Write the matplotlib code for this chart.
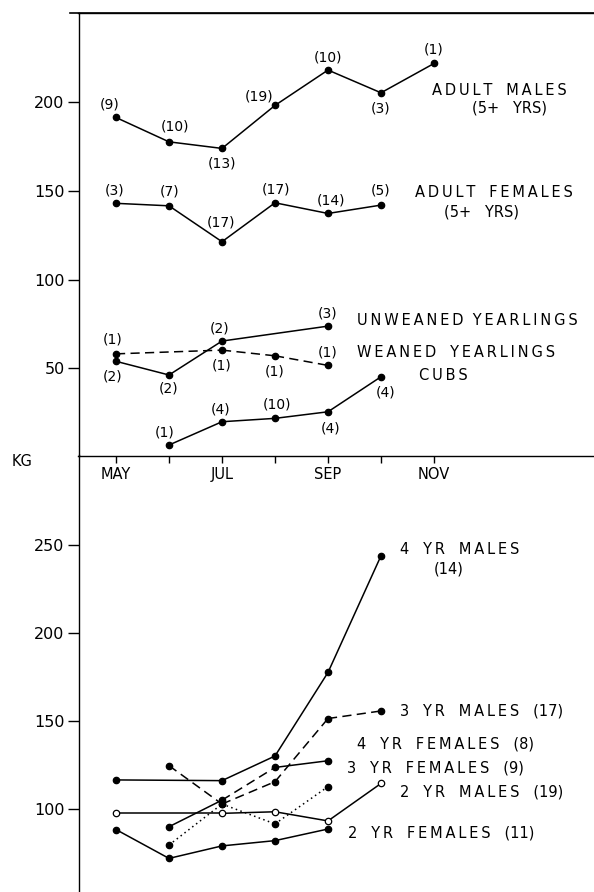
import matplotlib
matplotlib.use("Agg")
import matplotlib.pyplot as plt
from matplotlib.lines import Line2D

plt.rcParams['font.family'] = ['DejaVu Sans']

# month numbers: 5 = May ... 11 = Nov
month_ticks = [5, 6, 7, 8, 9, 10, 11]
month_labels = ['MAY', '', 'JUL', '', 'SEP', '', 'NOV']

# ---- top panel (kg) ----
am_x = [5, 6, 7, 8, 9, 10, 11]
am_y = [191.2, 177.5, 173.8, 198.0, 217.9, 205.1, 221.6]
am_n = ['(9)', '(10)', '(13)', '(19)', '(10)', '(3)', '(1)']

af_x = [5, 6, 7, 8, 9, 10]
af_y = [142.9, 141.5, 121.3, 143.2, 137.2, 141.9]
af_n = ['(3)', '(7)', '(17)', '(17)', '(14)', '(5)']

uy_x = [5, 6, 7, 9]
uy_y = [54.0, 46.3, 65.4, 73.8]
uy_n = ['(2)', '(2)', '(2)', '(3)']

wy_x = [5, 7, 8, 9]
wy_y = [58.2, 60.3, 57.1, 51.7]
wy_n = ['(1)', '(1)', '(1)', '(1)']

cub_x = [6, 7, 8, 9, 10]
cub_y = [6.9, 20.0, 21.9, 25.6, 45.3]
cub_n = ['(1)', '(4)', '(10)', '(4)', '(4)']

# ---- bottom panel (kg) ----
m4_x = [5, 7, 8, 9, 10]
m4_y = [116.5, 116.1, 130.1, 177.6, 243.9]

m3_x = [6, 7, 8, 9, 10]
m3_y = [124.6, 102.8, 115.5, 151.4, 155.7]

f3_x = [6, 7, 8, 9]
f3_y = [89.9, 105.0, 123.6, 127.4]

f4_x = [6, 7, 8, 9]
f4_y = [79.5, 102.8, 91.5, 112.7]

m2_x = [5, 7, 8, 9, 10]
m2_y = [97.5, 97.5, 98.4, 93.2, 114.5]

f2_x = [5, 6, 7, 8, 9]
f2_y = [88.3, 71.9, 79.0, 82.0, 88.6]

LW = 1.1
MS = 4.6
dash = (0, (6, 3.5))
dot = (0, (1, 2.2))

fig = plt.figure(figsize=(5.94, 8.92), dpi=100)
ax2 = fig.add_axes([78.5/594, 0, 1-78.5/594, 1-455.5/892])
ax1 = fig.add_axes([78.5/594, 1-455.5/892, 1-78.5/594, (455.5-13)/892])
ax1.patch.set_alpha(0)
ax2.patch.set_alpha(0)
ax1.set_zorder(2)

xl = (5 - 37.5/53, 5 + 478/53)


def spaced(s, gap='   '):
    # wide lettering like the original stencil text; numbers stay tight
    words = []
    for w in s.split(' '):
        words.append(w if w.startswith('(') and w[1].isdigit() else '\u2009'.join(w))
    return gap.join(words)


def series(ax, xs, ys, styles, mfc='k', counts=None, offs=None):
    if isinstance(styles, str) or isinstance(styles, tuple):
        styles = [styles] * (len(xs) - 1)
    for i, ls in enumerate(styles):
        ax.plot(xs[i:i+2], ys[i:i+2], color='k', lw=LW, linestyle=ls)
    ax.plot(xs, ys, 'o', ms=MS, mfc=mfc, mec='k', mew=0.9, zorder=3)
    if counts:
        for x, y, t, (dx, dy) in zip(xs, ys, counts, offs):
            ax.annotate(t, (x, y), xytext=(dx, dy), textcoords='offset pixels',
                        ha='center', va='center', fontsize=10)


# top panel
series(ax1, am_x, am_y, '-', counts=am_n,
       offs=[(-6, 13), (6, 15), (0, -15), (-16, 9), (0, 13), (0, -16), (0, 14)])
series(ax1, af_x, af_y, '-', counts=af_n,
       offs=[(-1, 13), (1, 14), (-1, 19), (1, 13), (3, 13), (0, 15)])
series(ax1, uy_x, uy_y, '-', counts=uy_n,
       offs=[(-3, -15), (0, -14), (-2, 13), (0, 13)])
series(ax1, wy_x, wy_y, dash, counts=wy_n,
       offs=[(-3, 14), (0, -15), (0, -16), (0, 13)])
series(ax1, cub_x, cub_y, '-', counts=cub_n,
       offs=[(-4, 13), (-1, 12), (2, 14), (3, -17), (5, -16)])

tk = dict(fontsize=10.5)
ax1.text(10.96, 206.6, spaced('ADULT MALES'), va='center', **tk)
ax1.text(12.43, 196.5, '(5+   YRS)', va='center', ha='center', **tk)
ax1.text(10.64, 149.2, spaced('ADULT FEMALES'), va='center', **tk)
ax1.text(11.90, 138.1, '(5+   YRS)', va='center', ha='center', **tk)
ax1.text(9.55, 77.2, spaced('UNWEANED YEARLINGS', '  '), va='center', **tk)
ax1.text(9.55, 59.0, spaced('WEANED YEARLINGS'), va='center', **tk)
ax1.text(10.72, 46.2, spaced('CUBS'), va='center', **tk)

ax1.set_xlim(*xl)
ax1.set_ylim(1, 250)
ax1.set_yticks([50, 100, 150, 200])
ax1.set_xticks(month_ticks)
ax1.set_xticklabels(month_labels)
ax1.spines['right'].set_visible(False)
ax1.tick_params(axis='y', direction='out', length=8, width=1, labelsize=11.5, pad=2)
ax1.tick_params(axis='x', direction='out', length=5, width=1, labelsize=10.5, pad=3)

# bottom panel
series(ax2, m4_x, m4_y, '-')
series(ax2, m3_x, m3_y, dash)
series(ax2, f3_x, f3_y, ['-', dash, '-'])
series(ax2, f4_x, f4_y, dot)
series(ax2, m2_x, m2_y, '-', mfc='white')
series(ax2, f2_x, f2_y, '-')

ax2.text(10.36, 247.2, spaced('4 YR MALES'), va='center', **tk)
ax2.text(11.28, 236.2, '(14)', va='center', ha='center', **tk)
ax2.text(10.36, 155.9, spaced('3 YR MALES (17)'), va='center', **tk)
ax2.text(9.55, 136.9, spaced('4 YR FEMALES (8)'), va='center', **tk)
ax2.text(9.35, 123.1, spaced('3 YR FEMALES (9)'), va='center', **tk)
ax2.text(10.36, 109.5, spaced('2 YR MALES (19)'), va='center', **tk)
ax2.text(9.38, 86.5, spaced('2 YR FEMALES (11)'), va='center', **tk)

ax2.set_xlim(*xl)
ax2.set_ylim(52.8, 300.9)
ax2.set_yticks([100, 150, 200, 250])
ax2.set_xticks([])
for s in ['top', 'right', 'bottom']:
    ax2.spines[s].set_visible(False)
ax2.tick_params(axis='y', direction='out', length=8, width=1, labelsize=11.5, pad=2)

for a in (ax1, ax2):
    for s in a.spines.values():
        s.set_linewidth(1.0)

# top frame line reaching a bit left of the axis
fig.add_artist(Line2D([70/594, 1], [1-13/892, 1-13/892], color='k', lw=1.2))
fig.text(22/594, 1-461/892, 'KG', ha='center', va='center', fontsize=10.5)

fig.savefig('out.png', dpi=100)
